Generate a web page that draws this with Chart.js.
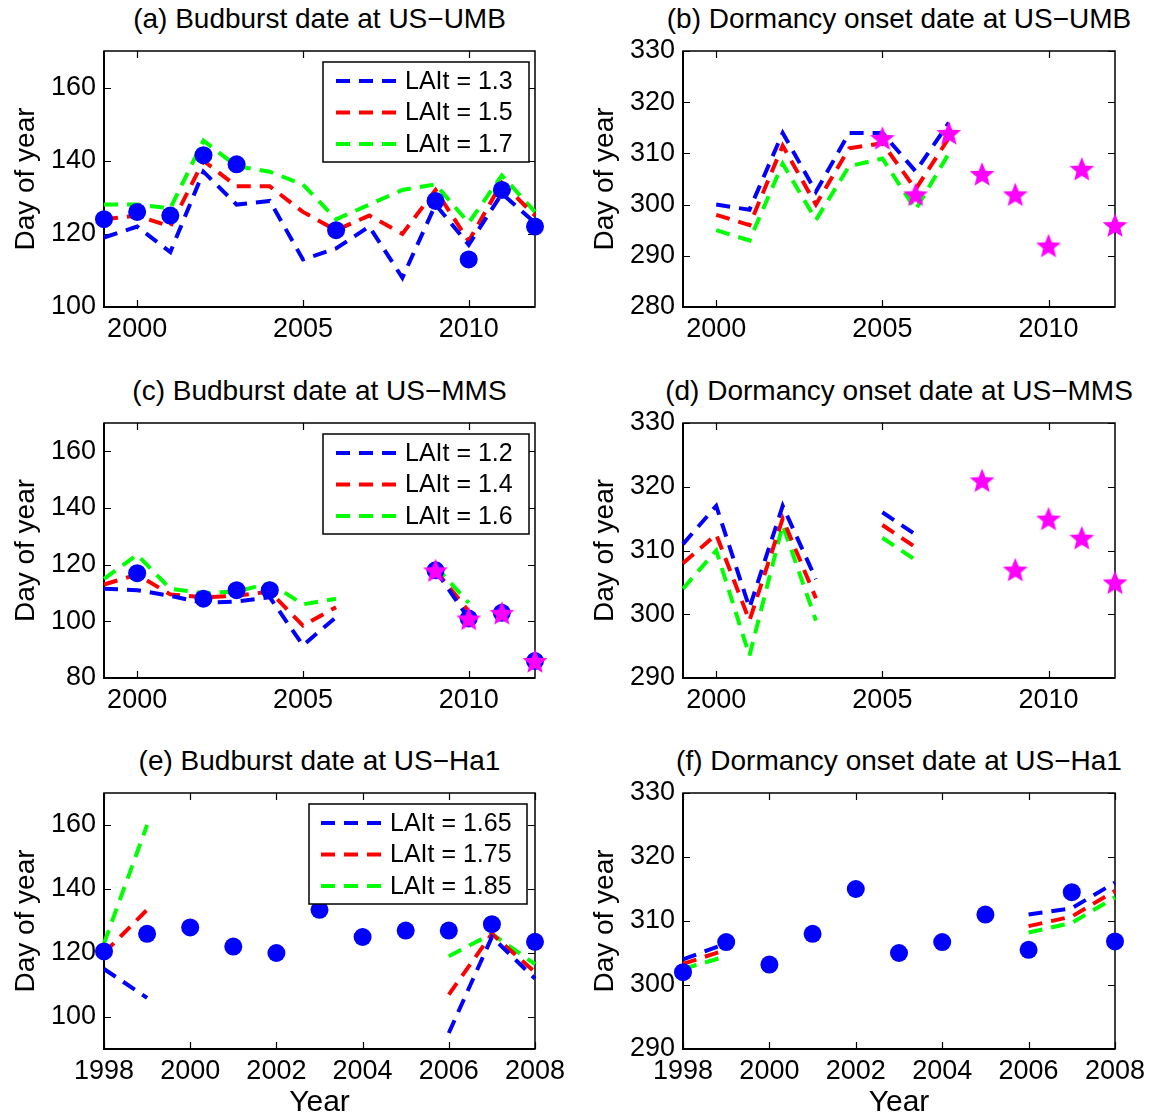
<!DOCTYPE html>
<html lang="en">
<head>
    <meta charset="UTF-8">
    <title>Budburst and dormancy onset dates</title>
    <style>
        body {
            margin: 0;
            background: #ffffff;
            font-family: "Liberation Sans", Arial, sans-serif;
        }
        #page {
            position: relative;
            width: 1154px;
            height: 1118px;
            overflow: hidden;
        }
        canvas {
            position: absolute;
        }
        .ptitle {
            position: absolute;
            font-size: 28px;
            line-height: 28px;
            color: #000;
            white-space: nowrap;
            transform: translateX(-50%);
        }
    </style>
    <script src="https://cdn.jsdelivr.net/npm/chart.js"></script>
</head>
<body>
<div id="page">
    <div class="ptitle" style="left:319.5px; top:5px">(a) Budburst date at US−UMB</div>
    <div class="ptitle" style="left:899px; top:5px">(b) Dormancy onset date at US−UMB</div>
    <div class="ptitle" style="left:319.5px; top:377px">(c) Budburst date at US−MMS</div>
    <div class="ptitle" style="left:899px; top:377px">(d) Dormancy onset date at US−MMS</div>
    <div class="ptitle" style="left:319.5px; top:747px">(e) Budburst date at US−Ha1</div>
    <div class="ptitle" style="left:899px; top:747px">(f) Dormancy onset date at US−Ha1</div>

    <canvas id="pa" width="580" height="331" style="left:0px; top:26px"></canvas>
    <canvas id="pb" width="577" height="331" style="left:577px; top:26px"></canvas>
    <canvas id="pc" width="580" height="330" style="left:0px; top:398px"></canvas>
    <canvas id="pd" width="577" height="330" style="left:577px; top:398px"></canvas>
    <canvas id="pe" width="580" height="350" style="left:0px; top:768px"></canvas>
    <canvas id="pf" width="577" height="350" style="left:577px; top:768px"></canvas>
</div>

<script>
    // ---------- data (day of year) ----------
    const yearsUMB = [1999, 2000, 2001, 2002, 2003, 2004, 2005, 2006, 2007, 2008, 2009, 2010, 2011, 2012];
    const yearsMMS = yearsUMB;
    const yearsHa1 = [1998, 1999, 2000, 2001, 2002, 2003, 2004, 2005, 2006, 2007, 2008];

    // (a) budburst US-UMB
    const budObsUMB = [124, 126, 125, 141.5, 139, null, null, 121, null, null, 129, 113, 132, 122];
    const budUMB13 = [119, 122, 115, 137, 128, 129, 113, 116, 122, 108, 128, 117, 131, 123];
    const budUMB15 = [124, 125, 122, 140, 133, 133, 126, 121, 125, 120, 132, 118, 134, 125];
    const budUMB17 = [128, 128, 127, 145.5, 138.5, 137, 133.5, 124, 128, 132, 133.5, 123, 136, 126];

    // (b) dormancy onset US-UMB
    const dorUMB13 = [null, 300, 299, 314, 302.5, 314, 314, 306.5, 316, null, null, null, null, null];
    const dorUMB15 = [null, 298, 296, 311.5, 300, 311, 312, 303, 313, null, null, null, null, null];
    const dorUMB17 = [null, 295, 293, 308, 297, 307.5, 309, 299, 310, null, null, null, null, null];
    const dorObsUMB = [null, null, null, null, null, null, 313, 302, 314, 306, 302, 292, 307, 296];

    // (c) budburst US-MMS
    const budObsMMS = [null, 117, null, 108, 111, 111, null, null, null, null, 118, 101, 103, 86];
    const budStarMMS = [null, null, null, null, null, null, null, null, null, null, 118, 101, 103, 86];
    const budMMS12 = [111.5, 111, 109, 106.5, 107, 108.5, 91.5, 101.5, null, null, 118, 101, null, null];
    const budMMS14 = [113, 116.5, 109.5, 108.5, 109, 110.5, 98.5, 105, null, null, 118, 103.5, null, null];
    const budMMS16 = [115, 123.5, 111.5, 110, 110.5, 113.5, 106, 108, null, null, 119.5, 106.5, null, null];

    // (d) dormancy onset US-MMS
    const dorMMS12 = [311, 317, 301, 317, 305.5, null, 316, 312.5, null, null, null, null, null, null];
    const dorMMS14 = [308, 312.5, 299, 315, 302.5, null, 314, 310.5, null, null, null, null, null, null];
    const dorMMS16 = [304, 310, 293.5, 314, 299, null, 312, 308.5, null, null, null, null, null, null];
    const dorObsMMS = [null, null, null, null, null, null, null, null, null, 321, 307, 315, 312, 305];

    // (e) budburst US-Ha1
    const budObsHa1 = [120.5, 126, 128, 122, 120, 133.5, 125, 127, 127, 129, 123.5];
    const budHa1165 = [115, 106, null, null, null, null, null, null, 95, 125, 112];
    const budHa1175 = [120, 133.5, null, null, null, null, null, null, 107, 126, 114];
    const budHa1185 = [123, 160, null, null, null, null, null, null, 119, 126, 116.5];

    // (f) dormancy onset US-Ha1
    const dorObsHa1 = [302, 306.7, 303.2, 308, 315, 305, 306.7, 311, 305.5, 314.5, 306.8];
    const dorHa1165 = [304, 306.5, null, null, null, null, null, null, 311, 312, 316];
    const dorHa1175 = [303.3, 305.5, null, null, null, null, null, null, 309.2, 310.7, 314.7];
    const dorHa1185 = [302.5, 304.5, null, null, null, null, null, null, 308.2, 309.7, 313.7];

    // tick labels
    const ticksYear5 = [2000, 2005, 2010];
    const ticksYear2 = [1998, 2000, 2002, 2004, 2006, 2008];
    const ticksBud = [100, 120, 140, 160];
    const ticksBudMMS = [80, 100, 120, 140, 160];
    const ticksDorUMB = [280, 290, 300, 310, 320, 330];
    const ticksDor = [290, 300, 310, 320, 330];

    // legend labels
    const labelsUMB = ['LAIt = 1.3', 'LAIt = 1.5', 'LAIt = 1.7'];
    const labelsMMS = ['LAIt = 1.2', 'LAIt = 1.4', 'LAIt = 1.6'];
    const labelsHa1 = ['LAIt = 1.65', 'LAIt = 1.75', 'LAIt = 1.85'];

    // ---------- styling ----------
    const FONT = '"Liberation Sans", Arial, sans-serif';
    const BLUE = '#0000ff', RED = '#ff0000', GREEN = '#00ff00', MAGENTA = '#ff00ff';
    const DASH = [14, 9];
    const LW = 4;

    Chart.defaults.font.family = FONT;
    Chart.defaults.color = '#000000';
    Chart.defaults.animation = false;

    // filled five-point star for the pointStyle
    function makeStar(r, color) {
        const c = document.createElement('canvas');
        const s = Math.ceil(r * 2 + 2);
        c.width = s;
        c.height = s;
        const g = c.getContext('2d');
        g.translate(s / 2, s / 2 + r * 0.1);
        g.beginPath();
        for (let i = 0; i < 10; i++) {
            const rad = i % 2 ? r * 0.44 : r;
            const a = -Math.PI / 2 + i * Math.PI / 5;
            g.lineTo(rad * Math.cos(a), rad * Math.sin(a));
        }
        g.closePath();
        g.fillStyle = color;
        g.fill();
        return c;
    }
    const starImg = makeStar(13, MAGENTA);

    function series(years, vals) {
        return years.map((x, i) => ({ x: x, y: vals[i] }));
    }

    function lineSet(label, color, years, vals) {
        return {
            label: label,
            data: series(years, vals),
            borderColor: color,
            backgroundColor: color,
            borderWidth: LW,
            borderDash: DASH,
            pointRadius: 0,
            showLine: true,
            spanGaps: false,
            tension: 0,
            clip: false,
            order: 3
        };
    }

    function dotSet(years, vals) {
        return {
            label: 'Observed',
            data: series(years, vals),
            showLine: false,
            pointStyle: 'circle',
            pointRadius: 9,
            pointBackgroundColor: BLUE,
            pointBorderWidth: 0,
            clip: false,
            order: 1
        };
    }

    function starSet(years, vals) {
        return {
            label: 'Observed',
            data: series(years, vals),
            showLine: false,
            pointStyle: starImg,
            pointRadius: 13,
            clip: false,
            order: 0
        };
    }

    // MATLAB style box, inward ticks and boxed legend
    const matlabBox = {
        id: 'matlabBox',
        beforeDatasetsDraw(chart) {
            const { ctx, chartArea: a, scales } = chart;
            const tl = 7;
            ctx.save();
            ctx.strokeStyle = '#000';
            ctx.lineWidth = 1.2;
            scales.x.ticks.forEach(t => {
                const px = Math.round(scales.x.getPixelForValue(t.value)) + 0.5;
                ctx.beginPath();
                ctx.moveTo(px, a.bottom); ctx.lineTo(px, a.bottom - tl);
                ctx.moveTo(px, a.top); ctx.lineTo(px, a.top + tl);
                ctx.stroke();
            });
            scales.y.ticks.forEach(t => {
                const py = Math.round(scales.y.getPixelForValue(t.value)) + 0.5;
                ctx.beginPath();
                ctx.moveTo(a.left, py); ctx.lineTo(a.left + tl, py);
                ctx.moveTo(a.right, py); ctx.lineTo(a.right - tl, py);
                ctx.stroke();
            });
            ctx.lineWidth = 1.5;
            ctx.strokeRect(a.left, a.top, a.right - a.left, a.bottom - a.top);
            ctx.lineWidth = 2;
            ctx.beginPath();
            ctx.moveTo(a.left, a.top);
            ctx.lineTo(a.left, a.bottom);
            ctx.lineTo(a.right, a.bottom);
            ctx.stroke();
            ctx.restore();
        },
        afterDraw(chart, args, opts) {
            const lg = opts.legend;
            if (!lg) return;
            const { ctx, chartArea: a } = chart;
            const x0 = a.right - lg.right - lg.width;
            const y0 = a.top + lg.top;
            ctx.save();
            ctx.fillStyle = '#fff';
            ctx.fillRect(x0, y0, lg.width, lg.height);
            ctx.strokeStyle = '#000';
            ctx.lineWidth = 1.5;
            ctx.strokeRect(x0, y0, lg.width, lg.height);
            const sets = chart.data.datasets.filter(d => d.showLine);
            ctx.font = '25px ' + FONT;
            ctx.textBaseline = 'middle';
            ctx.textAlign = 'left';
            sets.forEach((d, i) => {
                const y = y0 + lg.rowTop + i * lg.rowGap;
                ctx.strokeStyle = d.borderColor;
                ctx.lineWidth = LW;
                ctx.setLineDash(DASH);
                ctx.beginPath();
                ctx.moveTo(x0 + lg.lineFrom, y);
                ctx.lineTo(x0 + lg.lineTo, y);
                ctx.stroke();
                ctx.setLineDash([]);
                ctx.fillStyle = '#000';
                ctx.fillText(d.label, x0 + lg.textX, y + 1);
            });
            ctx.restore();
        }
    };

    const colLeft = { plotL: 104, plotR: 535, width: 580, yTitlePad: 9 };
    const colRight = { plotL: 106, plotR: 538, width: 577, yTitlePad: 11 };

    function makePanel(id, col, rowH, plotB, xr, yr, xTicks, yTicks, datasets, legend, xTitle) {
        new Chart(document.getElementById(id), {
            type: 'line',
            data: { datasets: datasets },
            options: {
                responsive: false,
                events: [],
                layout: { padding: { left: 0, right: col.width - col.plotR, top: 25, bottom: 0 } },
                scales: {
                    x: {
                        type: 'linear',
                        min: xr[0],
                        max: xr[1],
                        afterBuildTicks: s => { s.ticks = xTicks.map(v => ({ value: v })); },
                        afterFit: s => { s.height = rowH - plotB; },
                        grid: { display: false, drawTicks: false },
                        border: { display: false },
                        ticks: {
                            font: { size: 27 },
                            padding: 6,
                            maxRotation: 0,
                            autoSkip: false,
                            callback: v => String(v)
                        },
                        title: {
                            display: !!xTitle,
                            text: xTitle || '',
                            font: { size: 30, lineHeight: 1.0 },
                            padding: { top: 0, bottom: 0 }
                        }
                    },
                    y: {
                        type: 'linear',
                        min: yr[0],
                        max: yr[1],
                        afterBuildTicks: s => { s.ticks = yTicks.map(v => ({ value: v })); },
                        afterFit: s => { s.width = col.plotL; },
                        grid: { display: false, drawTicks: false },
                        border: { display: false },
                        ticks: {
                            font: { size: 27 },
                            padding: 8,
                            autoSkip: false,
                            callback: v => String(v)
                        },
                        title: {
                            display: true,
                            text: 'Day of year',
                            font: { size: 28 },
                            padding: { top: col.yTitlePad, bottom: 0 }
                        }
                    }
                },
                plugins: {
                    legend: { display: false },
                    tooltip: { enabled: false },
                    matlabBox: { legend: legend }
                }
            },
            plugins: [matlabBox]
        });
    }

    const legendNarrow = { right: 6, top: 11, width: 206, height: 100, rowTop: 19, rowGap: 31.5, lineFrom: 13, lineTo: 75, textX: 82 };
    const legendWide = { right: 8, top: 11, width: 218, height: 100, rowTop: 19, rowGap: 31.5, lineFrom: 12, lineTo: 74, textX: 81 };

    // (a)
    makePanel('pa', colLeft, 331, 281, [1999, 2012], [100, 170], ticksYear5, ticksBud, [
        lineSet(labelsUMB[0], BLUE, yearsUMB, budUMB13),
        lineSet(labelsUMB[1], RED, yearsUMB, budUMB15),
        lineSet(labelsUMB[2], GREEN, yearsUMB, budUMB17),
        dotSet(yearsUMB, budObsUMB)
    ], legendNarrow);

    // (b)
    makePanel('pb', colRight, 331, 281, [1999, 2012], [280, 330], ticksYear5, ticksDorUMB, [
        lineSet(labelsUMB[0], BLUE, yearsUMB, dorUMB13),
        lineSet(labelsUMB[1], RED, yearsUMB, dorUMB15),
        lineSet(labelsUMB[2], GREEN, yearsUMB, dorUMB17),
        starSet(yearsUMB, dorObsUMB)
    ], null);

    // (c)
    makePanel('pc', colLeft, 330, 280, [1999, 2012], [80, 170], ticksYear5, ticksBudMMS, [
        lineSet(labelsMMS[0], BLUE, yearsMMS, budMMS12),
        lineSet(labelsMMS[1], RED, yearsMMS, budMMS14),
        lineSet(labelsMMS[2], GREEN, yearsMMS, budMMS16),
        dotSet(yearsMMS, budObsMMS),
        starSet(yearsMMS, budStarMMS)
    ], legendNarrow);

    // (d)
    makePanel('pd', colRight, 330, 280, [1999, 2012], [290, 330], ticksYear5, ticksDor, [
        lineSet(labelsMMS[0], BLUE, yearsMMS, dorMMS12),
        lineSet(labelsMMS[1], RED, yearsMMS, dorMMS14),
        lineSet(labelsMMS[2], GREEN, yearsMMS, dorMMS16),
        starSet(yearsMMS, dorObsMMS)
    ], null);

    // (e)
    makePanel('pe', colLeft, 350, 281, [1998, 2008], [90, 170], ticksYear2, ticksBud, [
        lineSet(labelsHa1[0], BLUE, yearsHa1, budHa1165),
        lineSet(labelsHa1[1], RED, yearsHa1, budHa1175),
        lineSet(labelsHa1[2], GREEN, yearsHa1, budHa1185),
        dotSet(yearsHa1, budObsHa1)
    ], legendWide, 'Year');

    // (f)
    makePanel('pf', colRight, 350, 281, [1998, 2008], [290, 330], ticksYear2, ticksDor, [
        lineSet(labelsHa1[0], BLUE, yearsHa1, dorHa1165),
        lineSet(labelsHa1[1], RED, yearsHa1, dorHa1175),
        lineSet(labelsHa1[2], GREEN, yearsHa1, dorHa1185),
        dotSet(yearsHa1, dorObsHa1)
    ], null, 'Year');
</script>
</body>
</html>
